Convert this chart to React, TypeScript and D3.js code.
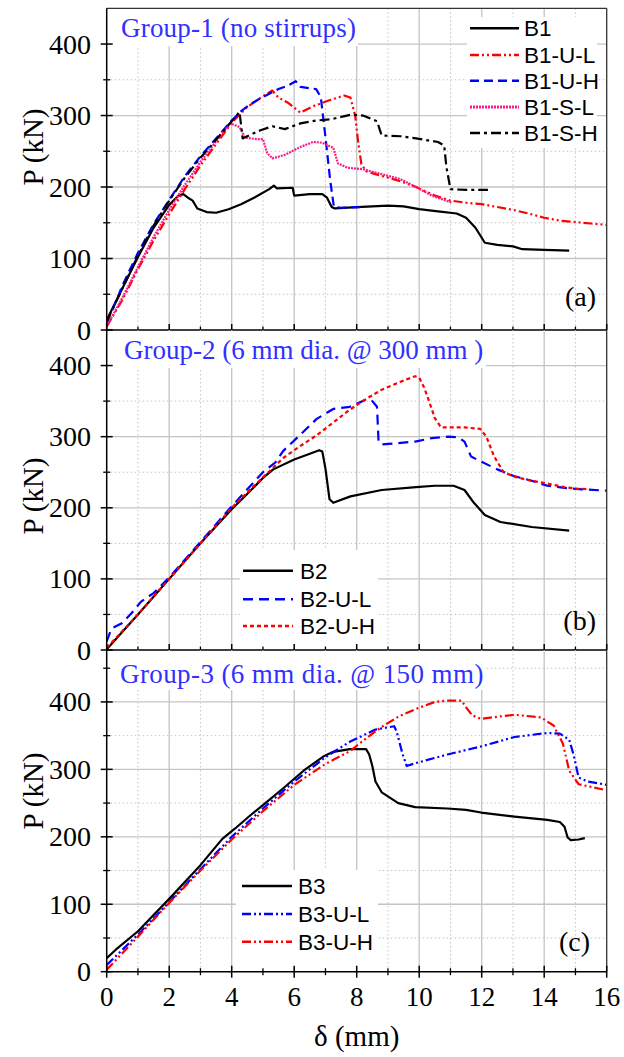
import React from 'react';
import * as d3 from 'd3';

type Pt = [number, number];

// ---------- axis content ----------
const X_TICKS = [0, 2, 4, 6, 8, 10, 12, 14, 16];
const Y_TICKS = [0, 100, 200, 300, 400];
const X_TITLE = 'δ (mm)';
const Y_TITLE = 'P (kN)';

// ---------- Group 1 (panel a) ----------
const B1: Pt[] = [[0,14],[0.5,58],[1,102],[1.5,143],[2,175],[2.3,188],[2.45,190],[2.6,185],[2.75,181],[2.9,170],[3.2,165],[3.5,164],[3.9,169],[4.3,176],[4.8,187],[5.2,197],[5.35,202],[5.45,198],[5.95,199],[6.0,188],[6.5,190],[6.9,190],[7.05,185],[7.2,172],[7.3,170],[8.0,172],[9.0,174],[9.5,173],[10.0,169],[10.6,166],[11.2,163],[11.5,157],[11.8,143],[12.1,122],[12.5,119],[13.0,117],[13.3,113],[14.0,112],[14.8,111]];
const B1_U_L: Pt[] = [[0,5],[0.5,42],[1,85],[1.5,125],[2,162],[2.5,197],[3,230],[3.5,260],[4,290],[4.5,312],[5,327],[5.3,335],[5.5,325],[5.8,318],[6.2,304],[6.6,313],[7.1,321],[7.6,328],[7.8,325],[7.95,300],[8.05,262],[8.15,232],[8.3,222],[8.6,218],[9.4,208],[9.9,200],[10.5,188],[11.0,181],[11.5,178],[12.0,176],[12.5,172],[13.0,168],[13.5,163],[14.0,157],[14.5,153],[15.0,151],[15.5,149],[16.0,147]];
const B1_U_H: Pt[] = [[0,10],[0.3,40],[0.5,62],[1,108],[1.5,148],[2,182],[2.5,215],[3,243],[3.5,268],[4,293],[4.3,306],[4.6,316],[5,326],[5.5,337],[5.8,342],[6.05,348],[6.2,340],[6.7,337],[6.85,326],[7.0,270],[7.15,210],[7.27,172],[7.5,171],[8.1,172]];
const B1_S_L: Pt[] = [[0,5],[0.5,45],[1,88],[1.5,130],[2,168],[2.5,203],[3,235],[3.5,264],[3.95,289],[4.25,284],[4.43,269],[4.8,267],[5.0,267],[5.13,248],[5.3,240],[5.7,245],[6.2,256],[6.6,263],[6.9,262],[7.25,255],[7.4,233],[7.7,227],[8.2,225],[8.8,218],[9.4,211],[9.9,200],[10.4,188],[11.05,178]];
const B1_S_H: Pt[] = [[0,12],[0.5,58],[1,104],[1.5,146],[2,181],[2.5,213],[3,241],[3.5,266],[4,292],[4.25,305],[4.35,268],[4.5,271],[4.9,279],[5.3,285],[5.7,281],[6.2,289],[6.7,293],[7.2,295],[7.8,301],[8.2,300],[8.65,292],[8.8,272],[9.4,271],[9.9,268],[10.6,263],[10.8,258],[10.87,228],[11.0,197],[11.5,196],[12.2,196]];

// ---------- Group 2 (panel b) ----------
const B2: Pt[] = [[0,1],[1,50],[2,100],[3,150],[4,198],[4.6,224],[5.0,242],[5.33,254],[6.0,268],[6.5,276],[6.8,281],[6.9,279],[7.0,255],[7.13,212],[7.25,207],[7.8,216],[8.8,225],[9.9,229],[10.5,231],[11.1,231],[11.45,225],[11.75,207],[12.1,190],[12.6,180],[13.6,173],[14.8,168]];
const B2_U_L: Pt[] = [[0,12],[0.15,30],[0.5,38],[0.8,52],[1.1,68],[1.5,80],[2,102],[3,152],[4,202],[5,250],[5.4,264],[5.65,280],[6.2,303],[6.72,325],[7.25,339],[7.78,342],[8.3,352],[8.5,350],[8.65,342],[8.7,293],[8.8,289],[9.33,291],[9.87,293],[10.4,298],[10.93,300],[11.25,299],[11.45,293],[11.66,272],[11.98,265],[12.5,254],[13.0,245],[13.6,238],[14.1,231],[14.65,228],[15.2,226],[16.0,224]];
const B2_U_H: Pt[] = [[0,3],[1,50],[2,100],[3,150],[4,200],[4.6,226],[5.2,251],[5.65,270],[6.2,287],[6.72,302],[7.25,320],[7.78,338],[8.3,353],[8.8,366],[9.33,376],[9.87,385],[10.0,383],[10.15,370],[10.3,352],[10.5,326],[10.7,313],[11.45,313],[11.95,311],[12.15,300],[12.4,272],[12.7,250],[13.1,243],[13.6,238],[14.1,234],[14.65,229],[15.0,227],[15.4,226]];

// ---------- Group 3 (panel c) ----------
const B3: Pt[] = [[0,20],[0.3,33],[1,60],[2,108],[3,158],[3.7,197],[4.1,212],[4.6,232],[5.0,247],[5.65,272],[6.3,298],[6.93,319],[7.25,326],[7.78,330],[8.3,330],[8.4,322],[8.5,305],[8.6,282],[8.8,266],[9.33,250],[9.87,244],[10.9,242],[11.5,240],[11.98,236],[13.05,230],[14.1,225],[14.5,222],[14.65,215],[14.75,199],[14.85,195],[15.1,196],[15.3,198]];
const B3_U_L: Pt[] = [[0,10],[1,55],[2,103],[3,152],[4,200],[5,242],[6,282],[7,318],[7.78,341],[8.6,359],[9.2,364],[9.28,356],[9.46,324],[9.6,305],[9.87,309],[10.9,322],[11.98,334],[13.05,348],[14.1,354],[14.5,353],[14.8,344],[14.95,320],[15.1,288],[15.4,282],[16,277]];
const B3_U_H: Pt[] = [[0,3],[1,52],[2,102],[3,150],[4,196],[5,238],[6,277],[7,308],[7.78,327],[8.3,346],[8.8,363],[9.33,378],[9.87,389],[10.5,400],[10.9,402],[11.35,402],[11.5,392],[11.7,380],[11.98,375],[12.5,378],[13.05,381],[13.9,377],[14.3,365],[14.6,338],[14.8,298],[15.1,278],[15.5,274],[16,269]];

// ---------- styles ----------
const RED = '#ff0000';
const BLUE = '#0000ff';
const PINK = '#ff1a8c';
const BLACK = '#000000';
const DASH_DOT_DOT = '9,3,2,3,2,3';
const SERIF = '"Liberation Serif", "Times New Roman", serif';
const SANS = '"Liberation Sans", Arial, sans-serif';

interface Series { name: string; data: Pt[]; color: string; dash?: string; width?: number; }
interface PanelCfg {
  top: number; bottom: number; yMax: number;
  title: string; titleX: number; titleY: number; titleBox: [number, number, number, number]; titleSpacing: number;
  series: Series[];
  legendBox: [number, number, number, number];
  legendLineX: [number, number]; legendTextX: number; legendRows: number[];
  label: string; labelX: number; labelY: number;
  yTitleY: number;
  ticksBoth: boolean;
}

const X0 = 106.7, X1 = 606.7;

const PANELS: PanelCfg[] = [
  {
    top: 8.3, bottom: 330, yMax: 450,
    title: 'Group-1 (no stirrups)', titleX: 121, titleY: 37, titleBox: [108, 9, 250, 37], titleSpacing: 0.2,
    series: [
      { name: 'B1', data: B1, color: BLACK },
      { name: 'B1-U-L', data: B1_U_L, color: RED, dash: DASH_DOT_DOT },
      { name: 'B1-U-H', data: B1_U_H, color: BLUE, dash: '9,5' },
      { name: 'B1-S-L', data: B1_S_L, color: PINK, dash: '2,1' },
      { name: 'B1-S-H', data: B1_S_H, color: BLACK, dash: '10,4,3,4' },
    ],
    legendBox: [467, 17, 130, 131], legendLineX: [470, 519], legendTextX: 524,
    legendRows: [28.3, 55, 80.7, 107, 133],
    label: '(a)', labelX: 596, labelY: 306, yTitleY: 147, ticksBoth: false,
  },
  {
    top: 330, bottom: 650, yMax: 450,
    title: 'Group-2 (6 mm dia. @ 300 mm )', titleX: 124, titleY: 359, titleBox: [108, 331, 378, 37], titleSpacing: 0,
    series: [
      { name: 'B2', data: B2, color: BLACK },
      { name: 'B2-U-L', data: B2_U_L, color: BLUE, dash: '10,6' },
      { name: 'B2-U-H', data: B2_U_H, color: RED, dash: '4,3' },
    ],
    legendBox: [240, 550, 138, 98], legendLineX: [243, 293], legendTextX: 300,
    legendRows: [570.7, 599.3, 626],
    label: '(b)', labelX: 596, labelY: 630, yTitleY: 496, ticksBoth: false,
  },
  {
    top: 650, bottom: 971.7, yMax: 477,
    title: 'Group-3 (6 mm dia. @ 150 mm)', titleX: 120, titleY: 683, titleBox: [108, 651, 376, 39], titleSpacing: 0.4,
    series: [
      { name: 'B3', data: B3, color: BLACK },
      { name: 'B3-U-L', data: B3_U_L, color: BLUE, dash: DASH_DOT_DOT },
      { name: 'B3-U-H', data: B3_U_H, color: RED, dash: DASH_DOT_DOT },
    ],
    legendBox: [236, 870, 142, 98], legendLineX: [242, 292], legendTextX: 298,
    legendRows: [886, 914, 941.7],
    label: '(c)', labelX: 590, labelY: 951, yTitleY: 791, ticksBoth: true,
  },
];

const GRID = '#c4c4c4';

function Panel({ cfg, idx }: { cfg: PanelCfg; idx: number }) {
  const x = d3.scaleLinear().domain([0, 16]).range([X0, X1]);
  const y = d3.scaleLinear().domain([0, cfg.yMax]).range([cfg.bottom, cfg.top]);
  const line = d3.line<Pt>().x(d => x(d[0])).y(d => y(d[1]));
  const majorXGrid = d3.range(2, 16, 2);
  const minorXGrid = d3.range(1, 16, 2);
  const majorYGrid = [100, 200, 300, 400];
  const minorYGrid = d3.range(50, cfg.yMax, 100);
  const minorXTicks = d3.range(1, 16, 2);
  const clipId = `clip-${idx}`;
  const tb = cfg.titleBox, lb = cfg.legendBox;
  return (
    <g>
      <defs>
        <clipPath id={clipId}>
          <rect x={X0} y={cfg.top} width={X1 - X0} height={cfg.bottom - cfg.top} />
        </clipPath>
      </defs>
      {minorXGrid.map(v => (
        <line key={'mx' + v} x1={x(v)} x2={x(v)} y1={cfg.top} y2={cfg.bottom} stroke={GRID} strokeWidth={1} strokeDasharray="1.5,2.5" />
      ))}
      {minorYGrid.map(v => (
        <line key={'my' + v} x1={X0} x2={X1} y1={y(v)} y2={y(v)} stroke={GRID} strokeWidth={1} strokeDasharray="1.5,2.5" />
      ))}
      {majorXGrid.map(v => (
        <line key={'gx' + v} x1={x(v)} x2={x(v)} y1={cfg.top} y2={cfg.bottom} stroke={GRID} strokeWidth={1.3} />
      ))}
      {majorYGrid.map(v => (
        <line key={'gy' + v} x1={X0} x2={X1} y1={y(v)} y2={y(v)} stroke={GRID} strokeWidth={1.3} />
      ))}
      <rect x={tb[0]} y={tb[1]} width={tb[2]} height={tb[3]} fill="#fff" />
      <rect x={lb[0]} y={lb[1]} width={lb[2]} height={lb[3]} fill="#fff" />
      <g clipPath={`url(#${clipId})`}>
        {cfg.series.map(s => (
          <path key={s.name} d={line(s.data) || ''} fill="none" stroke={s.color} strokeWidth={s.width ?? 2.2}
            strokeDasharray={s.dash} strokeLinejoin="round" />
        ))}
      </g>
      <line x1={X0} x2={X1} y1={cfg.bottom} y2={cfg.bottom} stroke="#000" strokeWidth={1.5} />
      <line x1={X1} x2={X1} y1={cfg.top} y2={cfg.bottom} stroke="#333" strokeWidth={1.3} />
      {idx === 0 && <line x1={X0} x2={X1} y1={cfg.top} y2={cfg.top} stroke="#333" strokeWidth={1.3} />}
      <line x1={X0} x2={X0} y1={cfg.top} y2={cfg.bottom} stroke="#000" strokeWidth={1.5} />
      {X_TICKS.map(v => (
        <line key={'xt' + v} x1={x(v)} x2={x(v)} y1={cfg.bottom - 6} y2={cfg.ticksBoth ? cfg.bottom + 6 : cfg.bottom} stroke="#000" strokeWidth={1.5} />
      ))}
      {minorXTicks.map(v => (
        <line key={'xm' + v} x1={x(v)} x2={x(v)} y1={cfg.bottom - 3.5} y2={cfg.ticksBoth ? cfg.bottom + 3.5 : cfg.bottom} stroke="#000" strokeWidth={1.3} />
      ))}
      {Y_TICKS.map(v => (
        <line key={'yt' + v} x1={X0 - 6} x2={X0 + 6} y1={y(v)} y2={y(v)} stroke="#000" strokeWidth={1.5} />
      ))}
      {minorYGrid.filter(v => v < cfg.yMax - 10).map(v => (
        <line key={'ym' + v} x1={X0 - 3.5} x2={X0 + 3.5} y1={y(v)} y2={y(v)} stroke="#000" strokeWidth={1.3} />
      ))}
      {Y_TICKS.map(v => (
        <text key={'yl' + v} x={91} y={y(v)} dy="0.34em" textAnchor="end" fontFamily={SERIF} fontSize={28} fill="#000">{v}</text>
      ))}
      <text transform={`translate(33,${cfg.yTitleY}) rotate(-90)`} textAnchor="middle" dominantBaseline="central"
        fontFamily={SERIF} fontSize={29} fill="#000">{Y_TITLE}</text>
      <text x={cfg.titleX} y={cfg.titleY} fontFamily={SERIF} fontSize={27} letterSpacing={cfg.titleSpacing} fill="#3030ff">{cfg.title}</text>
      {cfg.series.map((s, i) => (
        <g key={'lg' + s.name}>
          <line x1={cfg.legendLineX[0]} x2={cfg.legendLineX[1]} y1={cfg.legendRows[i]} y2={cfg.legendRows[i]}
            stroke={s.color} strokeWidth={s.dash === '2,1' ? 3 : 2.5} strokeDasharray={s.dash} />
          <text x={cfg.legendTextX} y={cfg.legendRows[i]} dy="0.36em" fontFamily={SANS} fontSize={22.5} fill="#000">{s.name}</text>
        </g>
      ))}
      <text x={cfg.labelX} y={cfg.labelY} textAnchor="end" fontFamily={SERIF} fontSize={28} fill="#000">{cfg.label}</text>
    </g>
  );
}

export default function App() {
  const x = d3.scaleLinear().domain([0, 16]).range([X0, X1]);
  const last = PANELS[PANELS.length - 1];
  return (
    <svg width={624} height={1057} style={{ position: 'absolute', left: 0, top: 0, background: '#fff' }}>
      <rect x={0} y={0} width={624} height={1057} fill="#fff" />
      {PANELS.map((p, i) => <Panel key={i} cfg={p} idx={i} />)}
      {X_TICKS.map(v => (
        <text key={'xl' + v} x={x(v)} y={1006} textAnchor="middle" fontFamily={SERIF} fontSize={27} fill="#000">{v}</text>
      ))}
      <text x={(X0 + X1) / 2} y={last.bottom + 74} textAnchor="middle" fontFamily={SERIF} fontSize={29} fill="#000">{X_TITLE}</text>
    </svg>
  );
}
